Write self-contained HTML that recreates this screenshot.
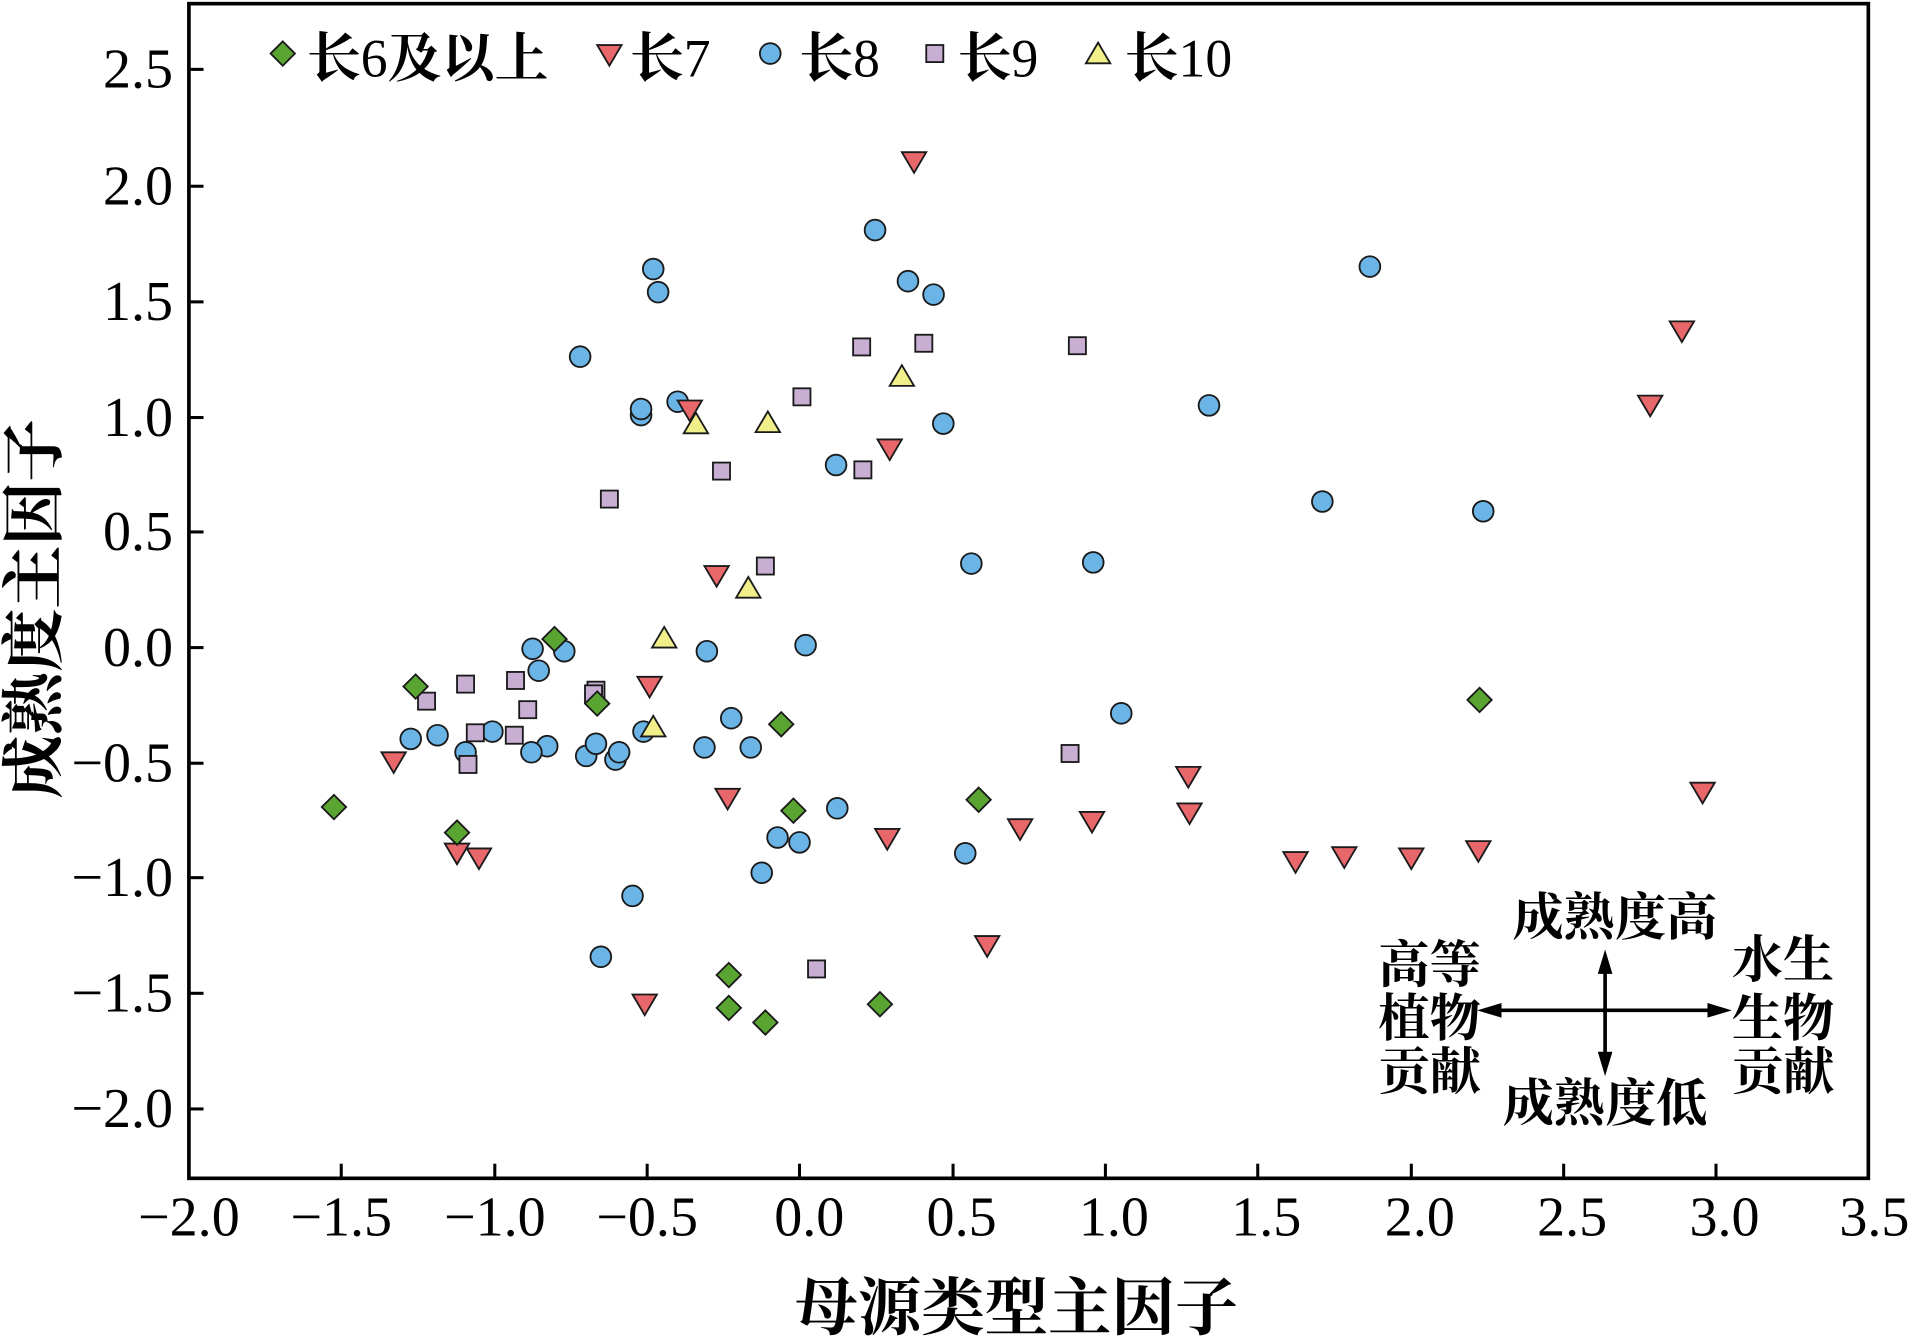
<!DOCTYPE html>
<html><head><meta charset="utf-8"><style>
html,body{margin:0;padding:0;background:#fff}
svg{display:block}
text{font-family:"Liberation Serif","Noto Serif CJK SC",serif;fill:#000}
.cj{font-family:"Liberation Serif","Noto Serif CJK SC",serif;font-weight:bold}
</style></head><body>
<svg width="1911" height="1339" viewBox="0 0 1568 1100" preserveAspectRatio="none" xmlns="http://www.w3.org/2000/svg">
<defs>
<g id="d"><polygon points="0,-10 10,0 0,10 -10,0" fill="#5aa532" stroke="#1a1a1a" stroke-width="1.5"/></g>
<g id="r"><polygon points="-10,-8 10,-8 0,9" fill="#e8676a" stroke="#1a1a1a" stroke-width="1.5"/></g>
<g id="b"><circle r="8.5" fill="#6ab4e6" stroke="#1a1a1a" stroke-width="1.5"/></g>
<g id="p"><rect x="-7" y="-7" width="14" height="14" fill="#c9aed3" stroke="#1a1a1a" stroke-width="1.5"/></g>
<g id="y"><polygon points="-10,8 10,8 0,-9" fill="#f1ef8a" stroke="#1a1a1a" stroke-width="1.5"/></g>
</defs>
<rect x="155" y="3" width="1378" height="965" fill="none" stroke="#000" stroke-width="3"/>
<g stroke="#000" stroke-width="2.5">
<line x1="155" y1="57" x2="167" y2="57"/><line x1="155" y1="153" x2="167" y2="153"/><line x1="155" y1="248" x2="167" y2="248"/><line x1="155" y1="343" x2="167" y2="343"/><line x1="155" y1="437" x2="167" y2="437"/><line x1="155" y1="532" x2="167" y2="532"/><line x1="155" y1="627" x2="167" y2="627"/><line x1="155" y1="721" x2="167" y2="721"/><line x1="155" y1="816" x2="167" y2="816"/><line x1="155" y1="911" x2="167" y2="911"/>
<line x1="280" y1="968" x2="280" y2="956"/><line x1="406" y1="968" x2="406" y2="956"/><line x1="531" y1="968" x2="531" y2="956"/><line x1="656" y1="968" x2="656" y2="956"/><line x1="782" y1="968" x2="782" y2="956"/><line x1="907" y1="968" x2="907" y2="956"/><line x1="1032" y1="968" x2="1032" y2="956"/><line x1="1158" y1="968" x2="1158" y2="956"/><line x1="1283" y1="968" x2="1283" y2="956"/><line x1="1408" y1="968" x2="1408" y2="956"/>
</g>
<g font-size="46" text-anchor="end">
<text x="142" y="72">2.5</text><text x="142" y="168">2.0</text><text x="142" y="263">1.5</text><text x="142" y="358">1.0</text><text x="142" y="452">0.5</text><text x="142" y="547">0.0</text><text x="142" y="642">−0.5</text><text x="142" y="736">−1.0</text><text x="142" y="831">−1.5</text><text x="142" y="926">−2.0</text>
</g>
<g font-size="46" text-anchor="middle">
<text x="155" y="1015">−2.0</text><text x="280" y="1015">−1.5</text><text x="406" y="1015">−1.0</text><text x="531" y="1015">−0.5</text><text x="664" y="1015">0.0</text><text x="789" y="1015">0.5</text><text x="914" y="1015">1.0</text><text x="1039" y="1015">1.5</text><text x="1165" y="1015">2.0</text><text x="1290" y="1015">2.5</text><text x="1415" y="1015">3.0</text><text x="1538" y="1015">3.5</text>
</g>
<text class="cj" x="834" y="1092" font-size="52" text-anchor="middle">母源类型主因子</text>
<text class="cj" transform="translate(46,500) rotate(-90)" font-size="52" text-anchor="middle">成熟度主因子</text>
<!-- legend -->
<use href="#d" x="232" y="44"/><text class="cj" x="252" y="63" font-size="44">长<tspan font-weight="normal">6</tspan>及以上</text>
<use href="#r" x="500" y="45"/><text class="cj" x="517" y="63" font-size="44">长<tspan font-weight="normal">7</tspan></text>
<use href="#b" x="632" y="44"/><text class="cj" x="656" y="63" font-size="44">长<tspan font-weight="normal">8</tspan></text>
<use href="#p" x="767" y="44"/><text class="cj" x="786" y="63" font-size="44">长<tspan font-weight="normal">9</tspan></text>
<use href="#y" x="901" y="44"/><text class="cj" x="923" y="63" font-size="44">长<tspan font-weight="normal">10</tspan></text>
<!-- annotation -->
<g stroke="#000" stroke-width="3"><line x1="1225" y1="830" x2="1408" y2="830"/><line x1="1317" y1="792" x2="1317" y2="872"/></g>
<polygon points="1212,830 1232,824 1232,836" fill="#000"/><polygon points="1421,830 1401,824 1401,836" fill="#000"/>
<polygon points="1317,780 1311,800 1323,800" fill="#000"/><polygon points="1317,884 1311,864 1323,864" fill="#000"/>
<g class="cj" font-size="42" text-anchor="middle">
<text x="1325" y="768">成熟度高</text><text x="1317" y="921">成熟度低</text>
<text x="1173" y="807">高等</text><text x="1173" y="851">植物</text><text x="1173" y="895">贡献</text>
<text x="1463" y="803">水生</text><text x="1463" y="851">生物</text><text x="1463" y="895">贡献</text>
</g>
<!-- data -->
<g>
<use href="#b" x="718" y="189"/><use href="#b" x="536" y="221"/><use href="#b" x="540" y="240"/><use href="#b" x="745" y="231"/><use href="#b" x="766" y="242"/><use href="#b" x="476" y="293"/><use href="#b" x="526" y="341"/><use href="#b" x="526" y="336"/><use href="#b" x="556" y="330"/><use href="#b" x="774" y="348"/><use href="#b" x="686" y="382"/><use href="#b" x="992" y="333"/><use href="#b" x="1124" y="219"/><use href="#b" x="1085" y="412"/><use href="#b" x="1217" y="420"/><use href="#b" x="797" y="463"/><use href="#b" x="897" y="462"/><use href="#b" x="437" y="533"/><use href="#b" x="463" y="535"/><use href="#b" x="580" y="535"/><use href="#b" x="661" y="530"/><use href="#b" x="442" y="551"/><use href="#b" x="337" y="607"/><use href="#b" x="359" y="604"/><use href="#b" x="382" y="618"/><use href="#b" x="404" y="601"/><use href="#b" x="449" y="613"/><use href="#b" x="436" y="618"/><use href="#b" x="481" y="621"/><use href="#b" x="489" y="611"/><use href="#b" x="505" y="624"/><use href="#b" x="508" y="618"/><use href="#b" x="528" y="601"/><use href="#b" x="578" y="614"/><use href="#b" x="600" y="590"/><use href="#b" x="616" y="614"/><use href="#b" x="920" y="586"/><use href="#b" x="687" y="664"/><use href="#b" x="638" y="688"/><use href="#b" x="656" y="692"/><use href="#b" x="625" y="717"/><use href="#b" x="792" y="701"/><use href="#b" x="519" y="736"/><use href="#b" x="493" y="786"/>
<use href="#p" x="707" y="285"/><use href="#p" x="758" y="282"/><use href="#p" x="884" y="284"/><use href="#p" x="658" y="326"/><use href="#p" x="592" y="387"/><use href="#p" x="708" y="386"/><use href="#p" x="500" y="410"/><use href="#p" x="628" y="465"/><use href="#p" x="350" y="576"/><use href="#p" x="382" y="562"/><use href="#p" x="423" y="559"/><use href="#p" x="489" y="567"/><use href="#p" x="487" y="570"/><use href="#p" x="433" y="583"/><use href="#p" x="390" y="602"/><use href="#p" x="422" y="604"/><use href="#p" x="384" y="628"/><use href="#p" x="878" y="619"/><use href="#p" x="670" y="796"/>
<use href="#r" x="750" y="133"/><use href="#r" x="323" y="626"/><use href="#r" x="375" y="701"/><use href="#r" x="393" y="705"/><use href="#r" x="566" y="337"/><use href="#r" x="730" y="369"/><use href="#r" x="588" y="473"/><use href="#r" x="533" y="564"/><use href="#r" x="597" y="656"/><use href="#r" x="728" y="689"/><use href="#r" x="529" y="825"/><use href="#r" x="810" y="777"/><use href="#r" x="837" y="681"/><use href="#r" x="896" y="675"/><use href="#r" x="975" y="638"/><use href="#r" x="976" y="668"/><use href="#r" x="1063" y="708"/><use href="#r" x="1103" y="704"/><use href="#r" x="1158" y="705"/><use href="#r" x="1213" y="699"/><use href="#r" x="1354" y="333"/><use href="#r" x="1380" y="272"/><use href="#r" x="1397" y="651"/>
<use href="#y" x="740" y="309"/><use href="#y" x="571" y="348"/><use href="#y" x="630" y="347"/><use href="#y" x="614" y="483"/><use href="#y" x="545" y="524"/><use href="#y" x="536" y="597"/>
<use href="#d" x="274" y="663"/><use href="#d" x="341" y="564"/><use href="#d" x="375" y="684"/><use href="#d" x="455" y="525"/><use href="#d" x="490" y="578"/><use href="#d" x="641" y="595"/><use href="#d" x="651" y="666"/><use href="#d" x="803" y="657"/><use href="#d" x="598" y="801"/><use href="#d" x="598" y="828"/><use href="#d" x="628" y="840"/><use href="#d" x="722" y="825"/><use href="#d" x="1214" y="575"/>
</g>
</svg>
</body></html>
